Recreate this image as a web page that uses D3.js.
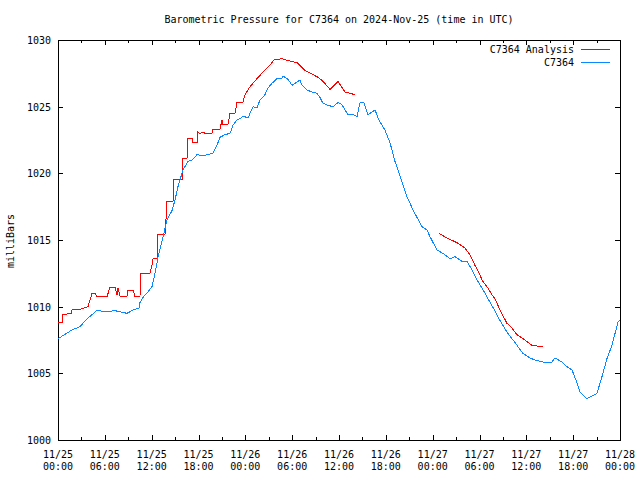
<!DOCTYPE html>
<html><head><meta charset="utf-8">
<script src="https://cdn.jsdelivr.net/npm/d3@7"></script>
<style>body{margin:0;background:#fff}svg{display:block}text{font-family:"DejaVu Sans Mono",monospace;font-size:10px;fill:#000}</style>
</head><body>
<script>
// hours since 2024-11-25 00:00 UTC
const stationHours = [0,1.79,2.82,3.72,4.36,5.00,6.02,7.30,8.84,9.61,10.38,10.50,10.89,11.53,12.04,12.43,12.81,13.45,13.96,14.60,14.99,15.37,16.01,16.65,17.17,17.81,18.58,19.09,19.86,20.37,20.75,21.39,22.04,22.42,22.93,
  23.32,23.70,24.34,24.98,25.49,25.88,26.52,26.90,27.41,28.05,28.70,28.82,29.47,29.98,30.36,31.00,31.26,31.90,32.54,33.18,33.56,33.95,34.59,35.23,35.87,36.38,36.77,37.15,37.79,38.31,38.69,39.20,39.71,40.22,40.61,41.12,
  41.89,42.53,43.17,43.81,44.71,45.48,46.63,47.27,47.66,48.55,49.32,50.22,50.86,51.76,52.40,53.04,53.68,54.32,55.09,55.86,56.37,57.52,58.55,59.57,60.47,61.11,62.13,63.29,63.67,64.57,65.21,65.85,66.49,66.87,67.77,68.41,69.05,69.69,70.33,70.97,71.74,72.00];
const stationPressure = [1007.6,1008.25,1008.5,1009.1,1009.4,1009.75,1009.6,1009.7,1009.5,1009.75,1009.9,1010.3,1010.7,1011.1,1011.5,1012.5,1013.7,1015.2,1016.5,1017.2,1018,1019,1020.25,1020.9,1021.0,1021.4,1021.3,1021.4,1021.5,1022.1,1022.7,1022.9,1023.0,1023.6,1024.0,
  1024.1,1024.3,1024.15,1025,1024.9,1025.5,1025.9,1026.4,1026.75,1027.1,1027.15,1027.3,1027.05,1026.6,1026.75,1027,1026.6,1026.25,1026.1,1026.0,1025.7,1025.25,1025.1,1025,1025.3,1025.15,1024.75,1024.4,1024.4,1024.25,1025.3,1025.3,1024.4,1024.6,1024.75,1024.0,
  1023.25,1022.3,1020.9,1019.8,1018.25,1017.25,1016,1015.75,1015.25,1014.25,1014,1013.6,1013.75,1013.4,1013.4,1012.75,1012,1011.4,1010.6,1009.8,1009.2,1008.1,1007.3,1006.5,1006.15,1006,1005.85,1005.85,1006.15,1005.85,1005.5,1005.25,1004.3,1003.6,1003.1,1003.3,1003.5,1004.75,1006.1,1007.1,1008.85,1009];

// analysis: null marks the gap between the two segments
const analysisHours = [0,0.64,0.64,1.79,1.79,2.82,3.84,4.36,4.74,5.00,6.28,6.66,7.30,7.56,7.69,7.94,8.84,8.90,9.61,9.86,10.50,10.63,11.79,12.04,12.17,12.68,12.81,13.71,13.84,13.96,14.73,14.86,15.89,16.01,16.53,16.65,17.17,17.29,17.81,17.87,18.19,18.58,18.83,19.73,19.86,20.75,21.01,21.07,21.78,22.04,22.68,22.93,23.70,23.96,24.60,25.49,26.52,27.16,27.67,28.70,29.47,30.62,31.00,31.64,32.54,33.31,33.95,34.85,35.87,36.77,37.41,38.05,
  43,
  48.81,49.83,51.12,52.14,52.78,53.42,54.06,54.32,54.96,55.60,55.98,56.63,57.52,58.16,58.80,59.83,60.72,61.36,62.13];
const analysisPressure = [1008.85,1008.85,1009.4,1009.5,1009.75,1009.8,1010,1011,1011,1010.75,1010.75,1011.45,1011.45,1010.9,1011.4,1010.8,1010.8,1011.25,1011.25,1010.75,1010.75,1012.5,1012.5,1013.1,1013.6,1013.6,1015.4,1015.4,1016.6,1017.9,1017.9,1019.55,1019.55,1021.15,1021.15,1022.65,1022.65,1022.3,1022.3,1023.1,1023.0,1023.1,1023.0,1023.0,1023.3,1023.3,1024,1023.7,1023.7,1024.5,1024.5,1025.35,1025.35,1025.9,1026.5,1027.1,1027.75,1028.1,1028.5,1028.6,1028.45,1028.3,1028.1,1027.7,1027.45,1027.2,1026.9,1026.3,1026.9,1026.1,1026,1025.9,
  null,
  1015.5,1015.15,1014.8,1014.4,1013.9,1013.1,1012.4,1012,1011.5,1010.9,1010.6,1009.75,1008.75,1008.4,1007.9,1007.5,1007.1,1007.05,1007.05];

const xTickHours = [0,6,12,18,24,30,36,42,48,54,60,66,72];
const xTickDates = ["11/25","11/25","11/25","11/25","11/26","11/26","11/26","11/26","11/27","11/27","11/27","11/27","11/28"];
const xTickTimes = ["00:00","06:00","12:00","18:00","00:00","06:00","12:00","18:00","00:00","06:00","12:00","18:00","00:00"];
const xMinorHours = [3,9,15,21,27,33,39,45,51,57,63,69];
const yTicks = [1000,1005,1010,1015,1020,1025,1030];
const seriesNames = ["C7364 Analysis","C7364"];
const seriesColors = ["#ff0000","#0a88ff"];

const W=640,H=480, L=58,R=620,T=40,B=440;
const svg=d3.select("body").append("svg").attr("width",W).attr("height",H);
const x=d3.scaleLinear().domain([0,72]).range([L,R]);
const y=d3.scaleLinear().domain([1000,1030]).range([B,T]);

const g=svg.append("g").attr("shape-rendering","crispEdges");
// axes ticks (inward) on all sides
const mk=(axis,tr)=>{const a=g.append("g").attr("transform",tr).call(axis);a.selectAll("text").remove();a.select(".domain").remove();a.selectAll("line").attr("stroke","#000");return a;};
mk(d3.axisBottom(x).tickValues(xTickHours).tickSize(-5),`translate(0,${B})`);
mk(d3.axisBottom(x).tickValues(xMinorHours).tickSize(-3),`translate(0,${B})`);
mk(d3.axisTop(x).tickValues(xTickHours).tickSize(-5),`translate(0,${T})`);
mk(d3.axisTop(x).tickValues(xMinorHours).tickSize(-3),`translate(0,${T})`);
mk(d3.axisLeft(y).tickValues(yTicks).tickSize(-5),`translate(${L},0)`);
mk(d3.axisRight(y).tickValues(yTicks).tickSize(-5),`translate(${R},0)`);
g.append("rect").attr("x",L).attr("y",T).attr("width",R-L).attr("height",B-T).attr("fill","none").attr("stroke","#000");

// labels
svg.selectAll(".yl").data(yTicks).enter().append("text").attr("x",L-7).attr("y",d=>y(d)+4).attr("text-anchor","end").text(d=>d);
const xl=svg.selectAll(".xl").data(xTickHours).enter().append("text").attr("text-anchor","middle");
xl.append("tspan").attr("x",d=>x(d)).attr("y",458).text((d,i)=>xTickDates[i]);
xl.append("tspan").attr("x",d=>x(d)).attr("y",470).text((d,i)=>xTickTimes[i]);
svg.append("text").attr("x",(L+R)/2).attr("y",23).attr("text-anchor","middle").text("Barometric Pressure for C7364 on 2024-Nov-25 (time in UTC)");
svg.append("text").attr("transform","translate(14,241) rotate(-90)").attr("text-anchor","middle").text("milliBars");

// lines
const line=d3.line().defined(d=>d[1]!=null).x(d=>x(d[0])).y(d=>y(d[1]));
const aData=analysisHours.map((h,i)=>[h,analysisPressure[i]]);
const sData=stationHours.map((h,i)=>[h,stationPressure[i]]);
svg.append("path").datum(aData).attr("d",line).attr("fill","none").attr("stroke",seriesColors[0]).attr("stroke-width",1).attr("shape-rendering","crispEdges");
svg.append("path").datum(sData).attr("d",line).attr("fill","none").attr("stroke",seriesColors[1]).attr("stroke-width",1).attr("shape-rendering","crispEdges");

// legend
seriesNames.forEach((n,i)=>{
  const yy=49+i*13;
  svg.append("text").attr("x",574).attr("y",yy+4).attr("text-anchor","end").text(n);
  svg.append("line").attr("x1",581).attr("x2",610).attr("y1",yy+0.5).attr("y2",yy+0.5).attr("stroke",seriesColors[i]).attr("shape-rendering","crispEdges");
});
</script>
</body></html>
